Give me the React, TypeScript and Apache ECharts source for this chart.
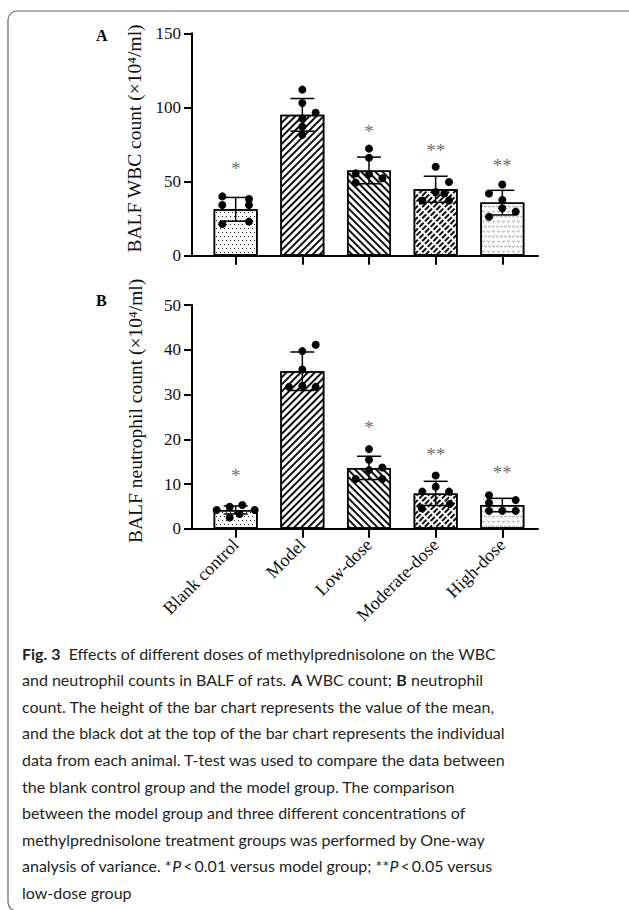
import React, { useEffect, useRef } from 'react';
import * as echarts from 'echarts';

const categories = ['Blank control', 'Model', 'Low-dose', 'Moderate-dose', 'High-dose'];

// Panel A: BALF WBC count
const wbcMean = [31.3, 95, 57.5, 44.8, 35.8];
const wbcSd = [8, 11, 9, 8.8, 8.3];
const wbcPoints = [
  [40, 38.2, 34.2, 34.2, 21.4, 23],
  [112, 103, 96.4, 92.5, 87, 81.5],
  [72.2, 66.1, 55.5, 55.1, 52.2, 49.2],
  [60, 49.7, 43, 42, 37.2, 37.2],
  [48, 42, 37.6, 32, 29.7, 26.3],
];
const wbcJitter = [
  [-0.2, 0.2, -0.2, 0.2, -0.2, 0.2],
  [0, 0, 0.2, 0, 0, 0],
  [0, 0, -0.2, 0, 0.2, -0.2],
  [0, 0.2, 0, 0.13, -0.2, 0.2],
  [0, -0.2, 0, 0, 0.2, -0.2],
];
const wbcStarLevel = [59, null, 83.6, 71, 61];

// Panel B: BALF neutrophil count
const neuMean = [4.2, 35.2, 13.6, 7.9, 5.3];
const neuSd = [0.9, 4.3, 2.6, 2.7, 1.5];
const neuPoints = [
  [4.2, 4.2, 4.9, 5.3, 2.5, 3.3],
  [41.1, 39.7, 35.6, 31.7, 31.9, 31.7],
  [17.8, 15.4, 13.7, 11.1, 13.1, 11.1],
  [11.9, 9.4, 8.3, 8.3, 4.6, 5.5],
  [7.5, 5.8, 6.4, 4.0, 4.0, 4.0],
];
const neuJitter = [
  [-0.285, 0.285, -0.09, 0.1, -0.09, 0.06],
  [0.2, 0, 0, -0.2, 0, 0.2],
  [0, 0, 0.2, -0.2, 0, 0.2],
  [0, 0, -0.2, 0.2, -0.21, 0.21],
  [-0.2, -0.2, 0.2, -0.2, 0, 0.2],
];
const neuStarLevel = [11.8, null, 22.6, 16.6, 12.5];

const starText = ['*', '', '*', '**', '**'];

const captionLines = [
  '{b|Fig. 3}  Effects of different doses of methylprednisolone on the WBC',
  'and neutrophil counts in BALF of rats. {b|A} WBC count; {b|B} neutrophil',
  'count. The height of the bar chart represents the value of the mean,',
  'and the black dot at the top of the bar chart represents the individual',
  'data from each animal. T-test was used to compare the data between',
  'the blank control group and the model group. The comparison',
  'between the model group and three different concentrations of',
  'methylprednisolone treatment groups was performed by One-way',
  'analysis of variance. *{i|P}\u2009<\u20090.01 versus model group; **{i|P}\u2009<\u20090.05 versus',
  'low-dose group',
];

const SERIF = '"Liberation Serif", "Times New Roman", serif';
const SANS = 'Lato, "Open Sans", sans-serif';

const decals: any[] = [
  { symbol: 'rect', symbolSize: 1, dashArrayX: [[1, 3], [0, 2, 1, 1]], dashArrayY: [1, 3], color: '#222' },
  { symbol: 'rect', symbolSize: 1, dashArrayX: [1, 0], dashArrayY: [1.3, 2.3], rotation: -Math.PI / 4, color: '#111' },
  { symbol: 'rect', symbolSize: 1, dashArrayX: [1, 0], dashArrayY: [1.3, 2.5], rotation: Math.PI / 4, color: '#111' },
  { symbol: 'rect', symbolSize: 1, dashArrayX: [6, 1.2], dashArrayY: [1.4, 1.6], rotation: -Math.PI / 4, color: '#111' },
  { symbol: 'path://M0 0L5 6L10 0L10 3L5 9L0 3Z', symbolSize: 0.9, dashArrayX: [[3, 1], [0, 2, 3, 0]], dashArrayY: [2.5, 1.5], color: '#666' },
];

function buildPanel(idx: number, means: number[], sds: number[], pts: number[][], jit: number[][], stars: (number | null)[]) {
  const bars = {
    type: 'bar',
    xAxisIndex: idx,
    yAxisIndex: idx,
    barWidth: 44,
    z: 2,
    data: means.map((m, i) => ({
      value: [i, m],
      itemStyle: { color: '#fff', borderColor: '#000', borderWidth: 1.5, decal: decals[i] },
    })),
  };
  const errors = {
    type: 'custom',
    xAxisIndex: idx,
    yAxisIndex: idx,
    z: 3,
    data: means.map((m, i) => [i, m, sds[i]]),
    renderItem: (params: any, api: any) => {
      const x = api.value(0);
      const m = api.value(1);
      const s = api.value(2);
      const top = api.coord([x, m + s]);
      const bot = api.coord([x, m - s]);
      const hw = 12;
      const st = { stroke: '#000', lineWidth: 1.5 };
      return {
        type: 'group',
        children: [
          { type: 'line', shape: { x1: top[0], y1: top[1], x2: bot[0], y2: bot[1] }, style: st },
          { type: 'line', shape: { x1: top[0] - hw, y1: top[1], x2: top[0] + hw, y2: top[1] }, style: st },
          { type: 'line', shape: { x1: bot[0] - hw, y1: bot[1], x2: bot[0] + hw, y2: bot[1] }, style: st },
        ],
      };
    },
  };
  const dots: number[][] = [];
  pts.forEach((arr, i) => arr.forEach((v, k) => dots.push([i + jit[i][k], v])));
  const scatter = {
    type: 'scatter',
    xAxisIndex: idx,
    yAxisIndex: idx,
    z: 4,
    symbolSize: 8,
    itemStyle: { color: '#000', opacity: 1 },
    data: dots,
  };
  const starSeries = {
    type: 'scatter',
    xAxisIndex: idx,
    yAxisIndex: idx,
    z: 5,
    symbolSize: 1,
    itemStyle: { color: 'rgba(0,0,0,0)' },
    label: {
      show: true,
      position: 'inside',
      formatter: (p: any) => starText[p.value[0]],
      fontFamily: SERIF,
      fontSize: 19,
      color: '#444',
    },
    data: stars.map((s, i) => (s == null ? null : [i, s])).filter((d) => d) as number[][],
  };
  return [bars, errors, scatter, starSeries];
}

export default function App() {
  const ref = useRef<HTMLDivElement>(null);
  useEffect(() => {
    if (!ref.current) return;
    const chart = echarts.init(ref.current, null, { renderer: 'svg' });
    const axisLine = { show: true, onZero: false, lineStyle: { color: '#000', width: 2 } };
    const axisTickY = { show: true, length: 8, lineStyle: { color: '#000', width: 2 } };
    const mkX = (i: number, showLabel: boolean) => ({
      type: 'value',
      gridIndex: i,
      min: -0.655,
      max: 4.535,
      axisLine,
      splitLine: { show: false },
      axisTick: { show: true, customValues: [0, 1, 2, 3, 4], length: 9, lineStyle: { color: '#000', width: 2 } },
      axisLabel: {
        show: showLabel,
        customValues: [0, 1, 2, 3, 4],
        formatter: (v: number) => categories[Math.round(v)],
        rotate: 45,
        margin: 13,
        fontFamily: SERIF,
        fontSize: 18,
        color: '#111',
      },
    });
    const mkY = (i: number, max: number, interval: number, name: string) => ({
      type: 'value',
      gridIndex: i,
      min: 0,
      max,
      interval,
      axisLine,
      axisTick: axisTickY,
      splitLine: { show: false },
      axisLabel: { fontFamily: SERIF, fontSize: 17, color: '#111', margin: 11 },
      name,
      nameLocation: 'middle',
      nameGap: 47,
      nameTextStyle: { fontFamily: SERIF, fontSize: 19.5, color: '#111', padding: [0, 0, 0, 12] },
    });
    const option: any = {
      animation: false,
      backgroundColor: '#fff',
      grid: [
        { left: 192, top: 33.3, width: 346, height: 222.4 },
        { left: 192, top: 305, width: 346, height: 223.75 },
      ],
      xAxis: [mkX(0, false), mkX(1, true)],
      yAxis: [
        mkY(0, 150, 50, 'BALF WBC count (\u00d710\u2074/ml)'),
        mkY(1, 50, 10, 'BALF neutrophil count (\u00d710\u2074/ml)'),
      ],
      series: [
        ...buildPanel(0, wbcMean, wbcSd, wbcPoints, wbcJitter, wbcStarLevel),
        ...buildPanel(1, neuMean, neuSd, neuPoints, neuJitter, neuStarLevel),
      ],
      graphic: [
        {
          type: 'rect',
          shape: { x: 8, y: 11, width: 700, height: 900, r: 9 },
          style: { fill: 'none', stroke: '#666', lineWidth: 1.2 },
          silent: true,
        },
        { type: 'text', x: 96, y: 35, style: { text: 'A', fontFamily: SERIF, fontWeight: 'bold', fontSize: 16, fill: '#000', verticalAlign: 'middle' } },
        { type: 'text', x: 96, y: 300, style: { text: 'B', fontFamily: SERIF, fontWeight: 'bold', fontSize: 16, fill: '#000', verticalAlign: 'middle' } },
        ...captionLines.map((t, i) => ({
          type: 'text',
          x: 22,
          y: 653 + i * 26.6,
          style: {
            text: t,
            fontFamily: SANS,
            fontSize: 16,
            fill: '#231f20',
            verticalAlign: 'middle',
            rich: {
              b: { fontFamily: SANS, fontSize: 16, fontWeight: 'bold', fill: '#231f20' },
              i: { fontFamily: SANS, fontSize: 16, fontStyle: 'italic', fill: '#231f20' },
            },
          },
        })),
      ],
    };
    chart.setOption(option);
    return () => chart.dispose();
  }, []);
  return <div ref={ref} style={{ position: 'absolute', left: 0, top: 0, width: 629, height: 910 }} />;
}
